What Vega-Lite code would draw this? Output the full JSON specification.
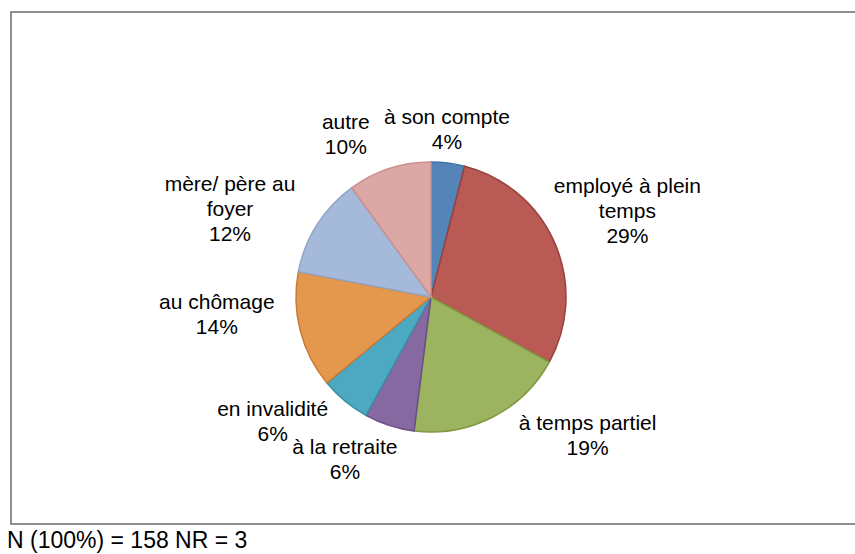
{
  "$schema": "https://vega.github.io/schema/vega-lite/v6.json",
  "width": 847,
  "height": 512,
  "autosize": {"type": "none"},
  "padding": {"left": 11, "top": 12, "right": 0, "bottom": 30},
  "background": "white",
  "view": {"stroke": "#8e8e8e", "strokeWidth": 2, "fill": "white"},
  "config": {
    "font": "Liberation Sans",
    "text": {"fontSize": 21, "lineBreak": "\n", "lineHeight": 25, "align": "center", "baseline": "middle", "color": "black", "font": "Liberation Sans"}
  },
  "title": {
    "text": "N (100%) = 158 NR = 3",
    "orient": "bottom",
    "anchor": "start",
    "frame": "group",
    "offset": 6,
    "dx": -4,
    "fontSize": 23,
    "fontWeight": "normal",
    "color": "black",
    "font": "Liberation Sans"
  },
  "data": {
    "values": [
      {"i": 1, "cat": "à son compte", "label": "à son compte", "pct": 4},
      {"i": 2, "cat": "employé à plein temps", "label": "employé à plein\ntemps", "pct": 29},
      {"i": 3, "cat": "à temps partiel", "label": "à temps partiel", "pct": 19},
      {"i": 4, "cat": "à la retraite", "label": "à la retraite", "pct": 6},
      {"i": 5, "cat": "en invalidité", "label": "en invalidité", "pct": 6},
      {"i": 6, "cat": "au chômage", "label": "au chômage", "pct": 14},
      {"i": 7, "cat": "mère/ père au foyer", "label": "mère/ père au\nfoyer", "pct": 12},
      {"i": 8, "cat": "autre", "label": "autre", "pct": 10}
    ]
  },
  "transform": [
    {"stack": "pct", "groupby": [], "sort": [{"field": "i", "order": "ascending"}], "as": ["s0", "s1"]},
    {"calculate": "(datum.s0 + datum.s1) / 2", "as": "mid"},
    {"calculate": "datum.label + '\\n' + datum.pct + '%'", "as": "txt"}
  ],
  "layer": [
    {
      "mark": {"type": "arc", "outerRadius": 135, "x": 420, "y": 285, "strokeWidth": 1.5},
      "encoding": {
        "theta": {"field": "s0", "type": "quantitative", "scale": {"domain": [0, 100]}},
        "theta2": {"field": "s1"},
        "fill": {
          "field": "cat", "type": "nominal", "legend": null,
          "scale": {
            "domain": ["à son compte", "employé à plein temps", "à temps partiel", "à la retraite", "en invalidité", "au chômage", "mère/ père au foyer", "autre"],
            "range": ["#5584B9", "#B95A55", "#9CB35F", "#8569A0", "#4DA8C2", "#E3984E", "#A5B9DB", "#DCA8A5"]
          }
        },
        "stroke": {
          "field": "cat", "type": "nominal", "legend": null,
          "scale": {
            "domain": ["à son compte", "employé à plein temps", "à temps partiel", "à la retraite", "en invalidité", "au chômage", "mère/ père au foyer", "autre"],
            "range": ["#4172A8", "#97403C", "#80983F", "#6A4F86", "#3A8FA8", "#C87A32", "#91A5C8", "#C8918E"]
          }
        }
      }
    },
    {
      "transform": [{"filter": "datum.i == 1"}],
      "mark": {"type": "text", "x": 420, "y": 285, "radius": 167, "thetaOffset": -0.03, "dy": -12.5},
      "encoding": {"theta": {"field": "mid", "type": "quantitative", "scale": {"domain": [0, 100]}}, "text": {"field": "txt", "type": "nominal"}}
    },
    {
      "transform": [{"filter": "datum.i == 2"}],
      "mark": {"type": "text", "x": 420, "y": 285, "radius": 214, "dy": -25},
      "encoding": {"theta": {"field": "mid", "type": "quantitative", "scale": {"domain": [0, 100]}}, "text": {"field": "txt", "type": "nominal"}}
    },
    {
      "transform": [{"filter": "datum.i == 3"}],
      "mark": {"type": "text", "x": 420, "y": 285, "radius": 210, "thetaOffset": -0.37, "dy": -12.5},
      "encoding": {"theta": {"field": "mid", "type": "quantitative", "scale": {"domain": [0, 100]}}, "text": {"field": "txt", "type": "nominal"}}
    },
    {
      "transform": [{"filter": "datum.i == 4"}],
      "mark": {"type": "text", "x": 420, "y": 285, "radius": 185, "thetaOffset": 0.17, "dy": -12.5},
      "encoding": {"theta": {"field": "mid", "type": "quantitative", "scale": {"domain": [0, 100]}}, "text": {"field": "txt", "type": "nominal"}}
    },
    {
      "transform": [{"filter": "datum.i == 5"}],
      "mark": {"type": "text", "x": 420, "y": 285, "radius": 202, "thetaOffset": 0.21, "dy": -12.5},
      "encoding": {"theta": {"field": "mid", "type": "quantitative", "scale": {"domain": [0, 100]}}, "text": {"field": "txt", "type": "nominal"}}
    },
    {
      "transform": [{"filter": "datum.i == 6"}],
      "mark": {"type": "text", "x": 420, "y": 285, "radius": 215, "thetaOffset": 0.164, "dy": -12.5},
      "encoding": {"theta": {"field": "mid", "type": "quantitative", "scale": {"domain": [0, 100]}}, "text": {"field": "txt", "type": "nominal"}}
    },
    {
      "transform": [{"filter": "datum.i == 7"}],
      "mark": {"type": "text", "x": 420, "y": 285, "radius": 219, "thetaOffset": -0.157, "dy": -25},
      "encoding": {"theta": {"field": "mid", "type": "quantitative", "scale": {"domain": [0, 100]}}, "text": {"field": "txt", "type": "nominal"}}
    },
    {
      "transform": [{"filter": "datum.i == 8"}],
      "mark": {"type": "text", "x": 420, "y": 285, "radius": 183, "thetaOffset": -0.17, "dy": -12.5},
      "encoding": {"theta": {"field": "mid", "type": "quantitative", "scale": {"domain": [0, 100]}}, "text": {"field": "txt", "type": "nominal"}}
    }
  ]
}
